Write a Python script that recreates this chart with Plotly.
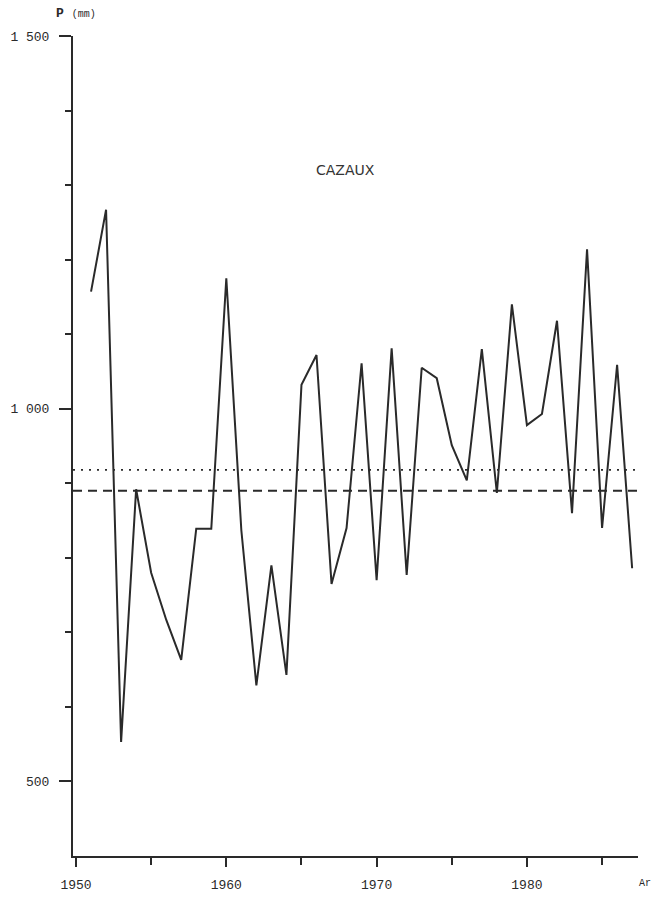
import plotly.graph_objects as go

years = list(range(1951, 1988))
precip = [1157, 1267, 553, 892, 780, 717, 663, 839, 839, 1175,
          837, 629, 790, 643, 1032, 1072, 765, 840, 1061, 770,
          1081, 777, 1055, 1041, 951, 904, 1080, 887, 1140, 978,
          993, 1118, 860, 1214, 840, 1059, 786]
mean_dotted = 918
mean_dashed = 890
ref_x = [1949.8, 1987.39]

y_tickvals = [500, 1000, 1500]
y_ticktext = ["500", "1 000", "1 500"]
x_tickvals = [1950, 1960, 1970, 1980]
x_ticktext = ["1950", "1960", "1970", "1980"]

ink = "#2a2a2a"
mono = "Liberation Mono, Courier New, monospace"

fig = go.Figure()
fig.add_trace(go.Scatter(x=ref_x, y=[mean_dotted, mean_dotted], mode="lines",
                         line=dict(color=ink, width=1.8, dash="2px,6px"), hoverinfo="skip"))
fig.add_trace(go.Scatter(x=ref_x, y=[mean_dashed, mean_dashed], mode="lines",
                         line=dict(color=ink, width=2.2, dash="9px,6px"), hoverinfo="skip"))
fig.add_trace(go.Scatter(x=years, y=precip, mode="lines",
                         line=dict(color=ink, width=2)))

fig.update_layout(
    width=654, height=897,
    margin=dict(l=73, r=16, t=36, b=41),
    paper_bgcolor="white", plot_bgcolor="white",
    showlegend=False,
    font=dict(family=mono, size=13, color=ink),
    xaxis=dict(range=ref_x, showgrid=False, zeroline=False, automargin=False,
               showline=True, linecolor=ink, linewidth=2,
               tickmode="array", tickvals=x_tickvals, ticktext=x_ticktext,
               ticks="outside", ticklen=9, tickwidth=2, tickcolor=ink,
               ticklabelstandoff=6,
               minor=dict(tickmode="array", tickvals=[1955, 1965, 1975, 1985],
                          ticks="outside", ticklen=7, tickwidth=2, tickcolor=ink),
               tickfont=dict(family=mono, size=13, color=ink)),
    yaxis=dict(range=[400, 1500], showgrid=False, zeroline=False, automargin=False,
               showline=True, linecolor=ink, linewidth=2,
               tickmode="array", tickvals=y_tickvals, ticktext=y_ticktext,
               ticks="outside", ticklen=12, tickwidth=2, tickcolor=ink,
               ticklabelstandoff=7,
               minor=dict(tickmode="array",
                          tickvals=[600, 700, 800, 900, 1100, 1200, 1300, 1400],
                          ticks="outside", ticklen=6, tickwidth=2, tickcolor=ink),
               tickfont=dict(family=mono, size=13, color=ink)),
)

fig.add_annotation(text="CAZAUX", xref="paper", yref="paper", x=0.483, y=0.8366,
                   showarrow=False, xanchor="center", yanchor="middle",
                   font=dict(family="DejaVu Sans, sans-serif", size=14, color="#333"))
fig.add_annotation(text="<b>P</b> <span style='font-size:10px;color:#2a2a2a'>(mm)</span>",
                   xref="paper", yref="paper",
                   x=0.005, y=1.027, showarrow=False, xanchor="center", yanchor="middle",
                   font=dict(family=mono, size=13, color=ink))
fig.add_annotation(text="Ar", xref="paper", yref="paper", x=1.012, y=-0.033,
                   showarrow=False, xanchor="center", yanchor="middle",
                   font=dict(family=mono, size=10, color=ink))

fig.write_html("out.html")
